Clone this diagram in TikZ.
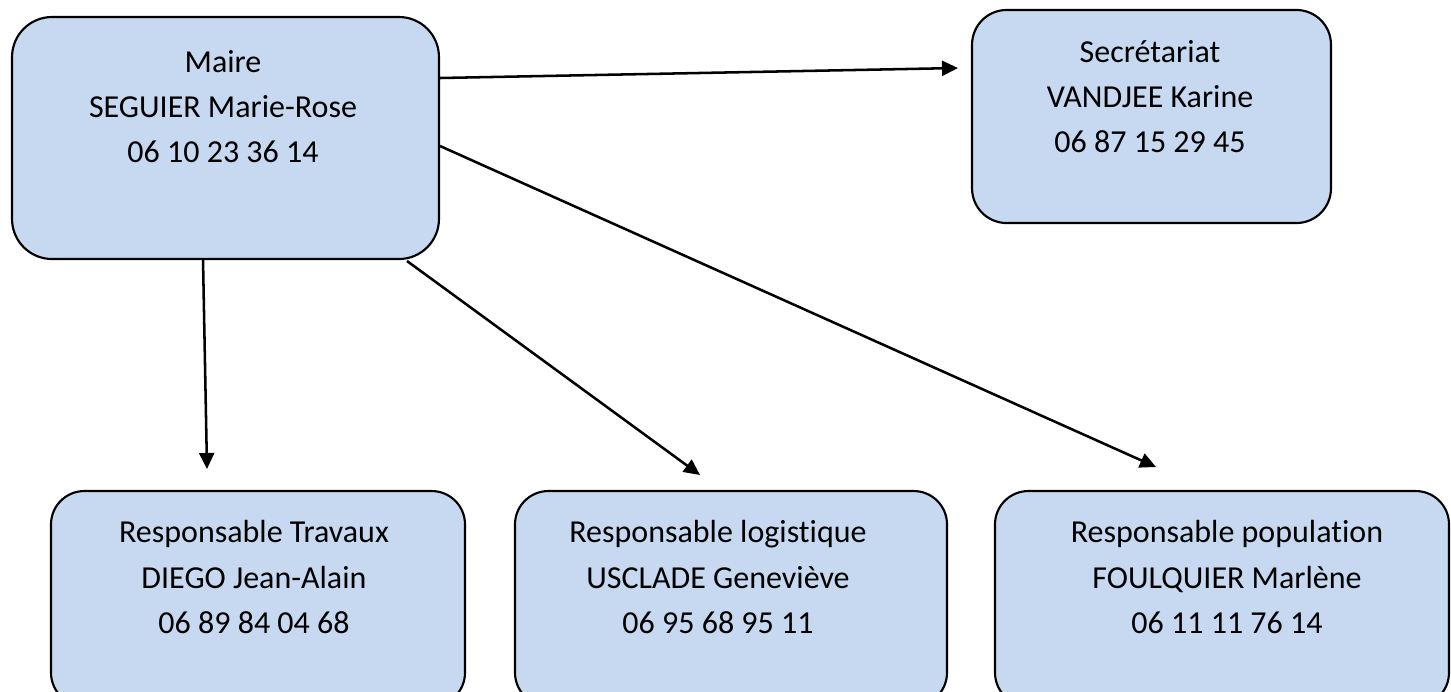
\documentclass[tikz,border=0pt]{standalone}
\usepackage{fontspec}
\setmainfont{Carlito}[Ligatures=NoCommon]
\usetikzlibrary{arrows.meta}
\definecolor{boxfill}{HTML}{C6D9F1}
\begin{document}
\begin{tikzpicture}[x=0.375pt,y=-0.375pt,
  box/.style={draw=black, line width=0.8pt, fill=boxfill, rounded corners=#1, inner sep=0pt},
  lbl/.style={align=center, font=\fontsize{12}{16.9}\selectfont, inner sep=0pt},
  conn/.style={line width=0.95pt, -{Triangle[length=6pt,width=5.6pt]}}]
\useasboundingbox (0,0) rectangle (1451,691);
\clip (0,0) rectangle (1451,691);
% boxes
\node[box=15pt, minimum width=160.1pt, minimum height=90.75pt] (maire) at (225.5,138) {};
\node[box=13pt, minimum width=134.6pt, minimum height=79.9pt] (sec) at (1151.5,116.5) {};
\node[box=12.5pt, minimum width=155.25pt, minimum height=80.6pt] (trav) at (258,598.5) {};
\node[box=12.5pt, minimum width=162pt, minimum height=80.6pt] (logi) at (731,598.5) {};
\node[box=12.5pt, minimum width=170.25pt, minimum height=80.6pt] (popu) at (1222,598.5) {};
% texts
\node[lbl] (maireT) at (223,107) {Maire\\SEGUIER Marie-Rose\\06 10 23 36 14};
\node[lbl] (secT) at (1150,97) {Secrétariat\\VANDJEE Karine\\06 87 15 29 45};
\node[lbl] (travT) at (254,577) {Responsable Travaux\\DIEGO Jean-Alain\\06 89 84 04 68};
\node[lbl] (logiT) at (718,577) {Responsable logistique\\USCLADE Geneviève\\06 95 68 95 11};
\node[lbl] (popuT) at (1227,577) {Responsable population\\FOULQUIER Marlène\\06 11 11 76 14};
% connector ends
\coordinate (m1) at (440,78);
\coordinate (m2) at (203,259);
\coordinate (m3) at (407,261);
\coordinate (m4) at (440,146);
\coordinate (e1) at (958,68);
\coordinate (e2) at (207,469);
\coordinate (e3) at (700,475);
\coordinate (e4) at (1156,467);
\draw[conn] (m1) -- (e1);
\draw[conn] (m2) -- (e2);
\draw[conn] (m3) -- (e3);
\draw[conn] (m4) -- (e4);
\end{tikzpicture}
\end{document}
